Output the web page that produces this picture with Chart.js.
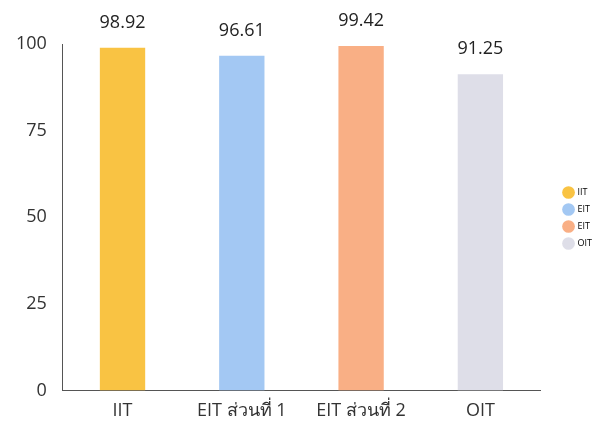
<!DOCTYPE html>
<html>
<head>
<meta charset="utf-8">
<script src="https://cdn.jsdelivr.net/npm/chart.js@4"></script>
<style>
  html, body { margin: 0; padding: 0; background: #fff; }
  #wrap { width: 612px; height: 432px; }
</style>
</head>
<body>
<div id="wrap"><canvas id="c" width="612" height="432"></canvas></div>
<script>
const categories = ['IIT', 'EIT ส่วนที่ 1', 'EIT ส่วนที่ 2', 'OIT'];
const legendLabels = ['IIT', 'EIT', 'EIT', 'OIT'];
const values = [98.92, 96.61, 99.42, 91.25];
const yTicks = [0, 25, 50, 75, 100];
const barColors = ['#F9C343', '#A3C8F3', '#F9AF85', '#DEDEE8'];

const FONT = '"Open Sans", "Noto Sans", sans-serif';

const valueLabels = {
  id: 'valueLabels',
  afterDatasetsDraw(chart) {
    const ctx = chart.ctx;
    const meta = chart.getDatasetMeta(0);
    ctx.save();
    ctx.font = '18px ' + FONT;
    ctx.fillStyle = '#222';
    ctx.textAlign = 'center';
    ctx.textBaseline = 'bottom';
    meta.data.forEach((bar, i) => {
      ctx.fillText(values[i].toFixed(2), bar.x, bar.y - 16);
    });
    ctx.restore();
  }
};

const legendShift = {
  id: 'legendShift',
  afterLayout(chart) {
    const lg = chart.legend;
    if (lg) { lg.left += 16; lg.right += 16; lg.top -= 20; lg.bottom -= 20; }
  }
};

new Chart(document.getElementById('c'), {
  type: 'bar',
  data: {
    labels: categories,
    datasets: [{
      data: values,
      backgroundColor: barColors,
      borderWidth: 0,
      barPercentage: 0.38,
      categoryPercentage: 1
    }]
  },
  options: {
    responsive: false,
    animation: false,
    layout: { padding: { left: 0, right: 26, top: 44, bottom: 0 } },
    plugins: {
      tooltip: { enabled: false },
      legend: {
        position: 'right',
        labels: {
          usePointStyle: true,
          pointStyle: 'circle',
          boxWidth: 9,
          boxHeight: 9,
          padding: 8,
          color: '#777',
          font: { family: FONT, size: 9 },
          generateLabels() {
            return legendLabels.map((t, i) => ({
              text: t,
              fillStyle: barColors[i],
              strokeStyle: barColors[i],
              lineWidth: 0,
              pointStyle: 'circle',
              hidden: false,
              index: i
            }));
          }
        }
      }
    },
    scales: {
      x: {
        grid: { display: false, drawTicks: false },
        border: { display: true, color: '#555', width: 1 },
        ticks: { color: '#333', font: { family: FONT, size: 18 }, padding: 10 }
      },
      y: {
        min: 0, max: 100,
        afterBuildTicks(scale) { scale.ticks = yTicks.map(v => ({ value: v })); },
        grid: { display: false, drawTicks: false },
        border: { display: true, color: '#555', width: 1 },
        ticks: { color: '#333', font: { family: FONT, size: 18 }, padding: 16 }
      }
    }
  },
  plugins: [valueLabels, legendShift]
});
</script>
</body>
</html>
